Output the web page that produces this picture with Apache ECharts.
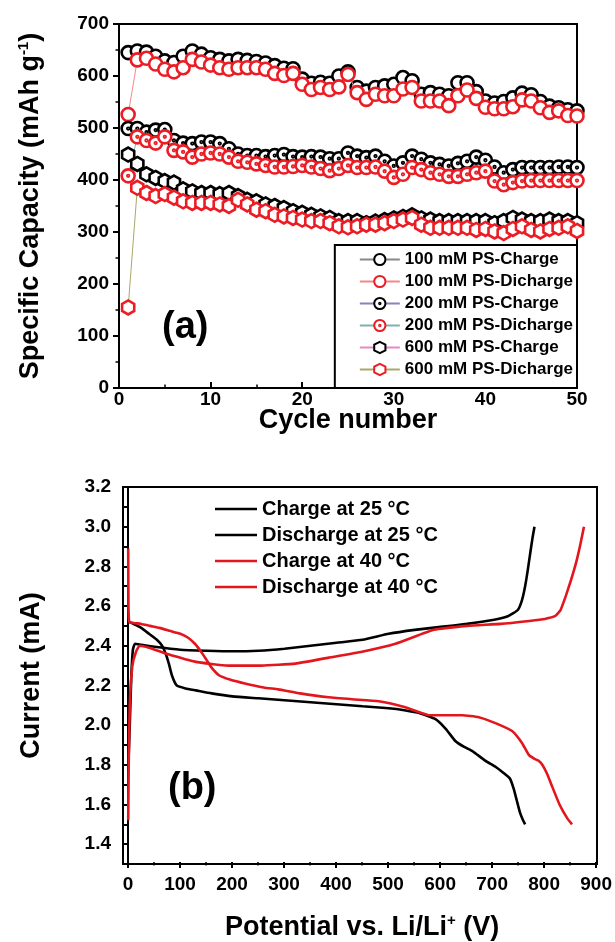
<!DOCTYPE html>
<html><head><meta charset="utf-8">
<script src="https://cdn.jsdelivr.net/npm/echarts@6/dist/echarts.min.js"></script>
<style>html,body{margin:0;padding:0;background:#fff}#c{width:615px;height:942px}</style>
</head><body><div id="c"></div>
<script>
var cycles = [1,2,3,4,5,6,7,8,9,10,11,12,13,14,15,16,17,18,19,20,21,22,23,24,25,26,27,28,29,30,31,32,33,34,35,36,37,38,39,40,41,42,43,44,45,46,47,48,49,50];
var c100 = [645,648,646,638,629,626,638,648,642,635,632,629,632,630,628,625,620,615,614,594,586,588,586,600,608,578,571,578,581,584,597,591,565,568,565,562,587,587,570,552,548,551,558,567,564,551,542,539,535,533];
var d100 = [526,631,634,623,613,608,616,632,627,621,616,613,616,616,616,613,605,601,605,584,574,578,574,579,603,568,555,565,562,562,575,578,552,552,552,543,562,573,557,540,537,537,541,554,552,539,530,533,524,523];
var c200 = [499,499,492,496,497,476,471,470,473,473,470,460,450,447,447,445,447,449,445,444,445,444,441,441,452,446,443,446,436,427,433,446,440,433,430,427,432,436,444,438,425,414,420,424,424,424,424,425,425,424];
var d200 = [408,483,476,471,483,457,454,444,450,452,450,444,436,434,431,428,425,425,426,428,425,422,418,422,428,424,424,425,417,405,411,424,420,414,411,407,407,411,414,417,398,391,395,398,399,399,399,399,399,399];
var c600 = [449,431,411,404,398,395,382,378,375,375,373,375,369,362,359,353,350,346,340,337,333,330,327,321,321,321,317,320,323,326,329,332,326,324,321,321,321,321,321,321,317,321,327,324,321,321,324,321,321,317];
var d600 = [155,385,375,369,373,366,359,356,356,356,353,350,362,353,343,340,333,330,327,324,321,321,317,311,309,311,314,314,317,321,324,327,314,308,308,308,308,308,304,306,301,298,306,311,304,301,306,308,311,302];
var topNames = ['100 mM PS-Charge','100 mM PS-Dicharge','200 mM PS-Charge','200 mM PS-Dicharge','600 mM PS-Charge','600 mM PS-Dicharge'];

var ch25X = [0,3,6,9,13,25,50,100,150,200,250,300,350,400,450,500,550,600,650,700,730,748,756,762,767,772,776,780];
var ch25Y = [1.78,2.0,2.25,2.38,2.41,2.405,2.395,2.38,2.375,2.372,2.375,2.385,2.40,2.415,2.43,2.46,2.48,2.495,2.51,2.53,2.55,2.58,2.63,2.7,2.78,2.87,2.94,3.0];
var dis25X = [2,10,25,40,55,65,72,78,84,93,110,130,160,200,250,300,350,400,450,500,530,560,590,610,628,645,660,686,705,720,733,740,746,752,758,762];
var dis25Y = [2.52,2.51,2.49,2.46,2.43,2.40,2.36,2.31,2.25,2.20,2.185,2.175,2.16,2.145,2.135,2.125,2.115,2.105,2.095,2.085,2.075,2.06,2.03,1.98,1.92,1.89,1.87,1.82,1.79,1.76,1.73,1.68,1.62,1.56,1.52,1.50];
var ch40X = [0,1,3,8,15,22,40,74,128,192,256,321,385,449,513,587,651,715,770,800,820,830,840,850,860,868,875];
var ch40Y = [1.52,1.8,2.1,2.3,2.37,2.40,2.39,2.36,2.32,2.30,2.30,2.31,2.34,2.37,2.41,2.48,2.50,2.51,2.525,2.535,2.55,2.58,2.65,2.73,2.82,2.91,3.0];
var dis40X = [0,0.5,2,10,25,42,60,80,100,115,128,140,150,160,175,195,224,260,288,330,385,430,481,532,564,577,600,641,673,705,737,756,769,780,788,795,805,814,828,843,852];
var dis40Y = [2.89,2.6,2.52,2.515,2.51,2.50,2.49,2.475,2.46,2.44,2.41,2.37,2.33,2.29,2.25,2.23,2.21,2.19,2.18,2.16,2.14,2.13,2.12,2.09,2.06,2.05,2.05,2.05,2.04,2.01,1.97,1.91,1.85,1.83,1.82,1.80,1.75,1.69,1.60,1.53,1.50];
var botNames = ['Charge at 25 \u00B0C','Discharge at 25 \u00B0C','Charge at 40 \u00B0C','Discharge at 40 \u00B0C'];

function pairs(xs, ys){ return xs.map(function(x,i){ return [x, ys[i]]; }); }

var FONT = 'Liberation Sans, Arial, sans-serif';
var RED = '#ec1c24';
var dotPath = 'path://M0,-10A10,10 0 1,1 0,10A10,10 0 1,1 0,-10ZM0,-1.3A1.3,1.3 0 1,1 0,1.3A1.3,1.3 0 1,1 0,-1.3Z';
var hexPath = 'path://M0,-10L8.66,-5L8.66,5L0,10L-8.66,5L-8.66,-5Z';
var symbols = ['circle','circle',dotPath,dotPath,hexPath,hexPath];
var strokes = ['#000',RED,'#000',RED,'#000',RED];
var lineCols = ['#888888','#f08a8a','#8f7fc0','#7fb0b0','#e48ac8','#a9a86a'];
var topData = [c100,d100,c200,d200,c600,d600];

var series = [];
topData.forEach(function(arr, k){
  series.push({
    name: topNames[k], type: 'line', xAxisIndex: 0, yAxisIndex: 0,
    data: pairs(cycles, arr),
    symbol: symbols[k], symbolSize: k >= 4 ? 14 : 13, symbolKeepAspect: true,
    itemStyle: {color: '#fff', borderColor: strokes[k], borderWidth: 2.6},
    lineStyle: {color: lineCols[k], width: 1},
    animation: false, z: 2 + k
  });
});
var botX = [ch25X, dis25X, ch40X, dis40X];
var botY = [ch25Y, dis25Y, ch40Y, dis40Y];
var botCols = ['#000','#000','#e3161d','#e3161d'];
botX.forEach(function(xs, k){
  series.push({
    name: botNames[k], type: 'line', xAxisIndex: 1, yAxisIndex: 1,
    data: pairs(xs, botY[k]), symbol: 'none', smooth: 0.15,
    lineStyle: {color: botCols[k], width: 2.6}, itemStyle: {color: botCols[k]},
    animation: false
  });
});

var labelStyle = {color: '#000', fontSize: 19, fontWeight: 'bold', fontFamily: FONT};
var nameStyle = {color: '#000', fontSize: 27, fontWeight: 'bold', fontFamily: FONT,
  rich: {sup: {fontSize: 15, fontWeight: 'bold', fontFamily: FONT, color: '#000', verticalAlign: 'top', padding: [0,0,14,0]}}};
var axLine = {show: true, lineStyle: {color: '#000', width: 2}};
var axTick = {show: true, length: 6, lineStyle: {color: '#000', width: 2}};
var minTick = {show: true, splitNumber: 2, length: 3.5, lineStyle: {color: '#000', width: 1.5}};

var option = {
  backgroundColor: '#fff',
  animation: false,
  grid: [
    {left: 119, right: 38, top: 24, bottom: 554, show: true, borderColor: '#000', borderWidth: 2},
    {left: 123, right: 18, top: 487, bottom: 78, show: true, borderColor: '#000', borderWidth: 2},
    {left: 128, right: 18, top: 487, bottom: 78, show: false}
  ],
  xAxis: [
    {gridIndex: 0, type: 'value', min: 0, max: 50, interval: 10, axisLine: axLine,
      axisTick: {show: true, inside: true, length: 6, lineStyle: {color: '#000', width: 2}},
      minorTick: {show: true, splitNumber: 2, length: 3.5, lineStyle: {color: '#000', width: 1.5}},
      splitLine: {show: false}, axisLabel: Object.assign({margin: 2}, labelStyle),
      name: 'Cycle number', nameLocation: 'middle', nameGap: 19, nameMoveOverlap: false, nameTextStyle: nameStyle},
    {gridIndex: 1, type: 'value', min: -10, max: 900, axisLine: axLine, axisTick: {show: false},
      splitLine: {show: false}, axisLabel: {show: false}},
    {gridIndex: 2, type: 'value', min: 0, max: 900, interval: 100, axisLine: {show: false}, axisTick: axTick, minorTick: minTick,
      splitLine: {show: false}, axisLabel: Object.assign({margin: 13}, labelStyle),
      name: 'Potential vs. Li/Li{sup|+} (V)', nameLocation: 'middle', nameGap: 51, nameTextStyle: nameStyle}
  ],
  yAxis: [
    {gridIndex: 0, type: 'value', min: 0, max: 700, interval: 100, axisLine: axLine, axisTick: axTick, minorTick: minTick,
      splitLine: {show: false}, axisLabel: Object.assign({margin: 10}, labelStyle),
      name: 'Specific Capacity (mAh g{sup|-1})', nameLocation: 'middle', nameGap: 74, nameTextStyle: nameStyle},
    {gridIndex: 1, type: 'value', min: 1.3, max: 3.2, interval: 0.1, axisLine: axLine, axisTick: axTick,
      splitLine: {show: false},
      axisLabel: Object.assign({margin: 12, formatter: function(v){ var t = Math.round(v*10); return (t % 2 === 0) ? (t/10).toFixed(1) : ''; }}, labelStyle),
      name: 'Current (mA)', nameLocation: 'middle', nameGap: 78, nameTextStyle: nameStyle},
    {gridIndex: 2, type: 'value', min: 1.3, max: 3.2, show: false}
  ],
  legend: [
    {data: topNames, orient: 'vertical', right: 38, bottom: 554, itemWidth: 40, itemHeight: 14, itemGap: 5,
      padding: [6, 4, 10, 24], borderColor: '#000', borderWidth: 2, backgroundColor: '#fff',
      textStyle: {color: '#000', fontSize: 17, fontWeight: 'bold', fontFamily: FONT}},
    {data: botNames.map(function(n){ return {name: n, icon: 'rect'}; }), orient: 'vertical', left: 210, top: 494,
      itemWidth: 42, itemHeight: 2.6, itemGap: 6,
      textStyle: {color: '#000', fontSize: 20, fontWeight: 'bold', fontFamily: FONT}}
  ],
  graphic: [
    {type: 'text', left: 162, top: 309, style: {text: '(a)', fontSize: 38, fontWeight: 'bold', fontFamily: FONT, fill: '#000'}},
    {type: 'text', left: 168, top: 770, style: {text: '(b)', fontSize: 38, fontWeight: 'bold', fontFamily: FONT, fill: '#000'}}
  ],
  series: series
};
echarts.init(document.getElementById('c')).setOption(option);
</script>
</body></html>
